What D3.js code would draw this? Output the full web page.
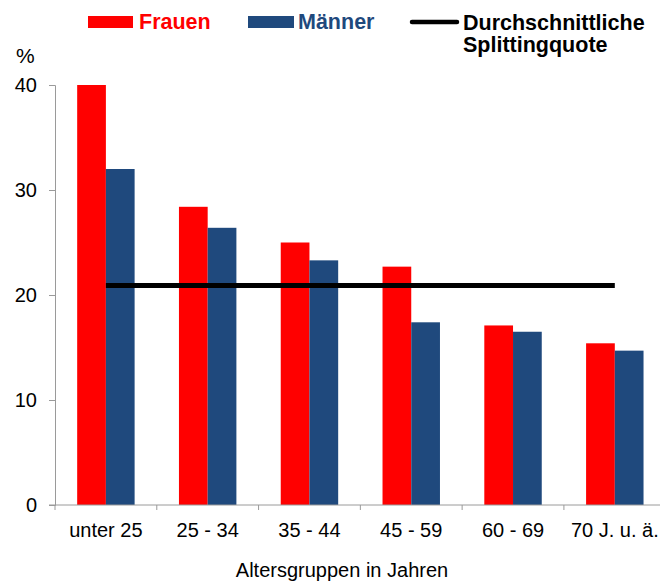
<!DOCTYPE html>
<html>
<head>
<meta charset="utf-8">
<script src="https://cdn.jsdelivr.net/npm/d3@7"></script>
<style>
  html, body { margin: 0; padding: 0; background: #fff; }
  svg { display: block; font-family: "Liberation Sans", Arial, sans-serif; }
</style>
</head>
<body>
<svg id="chart" width="660" height="582"></svg>
<script>
const categories = ["unter 25", "25 - 34", "35 - 44", "45 - 59", "60 - 69", "70 J. u. ä."];
const seriesNames = ["Frauen", "Männer"];
const frauen = [40.0, 28.4, 25.0, 22.7, 17.1, 15.4];
const maenner = [32.0, 26.4, 23.3, 17.4, 16.5, 14.7];
const durchschnitt = [20.9, 20.9, 20.9, 20.9, 20.9, 20.9];
const yTicks = [0, 10, 20, 30, 40];
const lineLabel = ["Durchschnittliche", "Splittingquote"];
const yUnit = "%";
const xTitle = "Altersgruppen in Jahren";

const colors = { "Frauen": "#ff0000", "Männer": "#1f497d" };
const axisColor = "#9a9a9a";

const svg = d3.select("#chart");

const x0 = d3.scaleBand().domain(categories).range([55, 665.7]).paddingInner(0).paddingOuter(0);
const x1 = d3.scaleBand().domain(seriesNames).range([0, x0.bandwidth()]).paddingInner(0).paddingOuter(0.772);
const y = d3.scaleLinear().domain([0, 40]).range([505, 85]);

const data = categories.map((c, i) => ({ cat: c, values: [
  { key: "Frauen", v: frauen[i] },
  { key: "Männer", v: maenner[i] }
]}));

// Bars
const g = svg.append("g");
g.selectAll("g.grp").data(data).join("g")
  .attr("class", "grp")
  .attr("transform", d => `translate(${x0(d.cat)},0)`)
  .selectAll("rect").data(d => d.values).join("rect")
  .attr("x", d => x1(d.key))
  .attr("width", x1.bandwidth())
  .attr("y", d => y(d.v))
  .attr("height", d => y(0) - y(d.v))
  .attr("fill", d => colors[d.key]);

// Y axis
const yAxis = svg.append("g")
  .attr("transform", "translate(55,0)")
  .call(d3.axisLeft(y).tickValues(yTicks).tickSize(6).tickPadding(12).tickFormat(d3.format("d")));
yAxis.select(".domain").attr("stroke", axisColor);
yAxis.selectAll(".tick line").attr("stroke", axisColor);
yAxis.selectAll(".tick text").attr("font-size", 20).attr("fill", "#000")
  .attr("font-family", "Liberation Sans, Arial, sans-serif");

// X axis
const xAxis = svg.append("g").attr("transform", "translate(0,505)");
xAxis.append("line").attr("x1", 49).attr("x2", 660).attr("y1", 0).attr("y2", 0)
  .attr("stroke", axisColor).attr("stroke-width", 1);
const boundaries = categories.map(c => x0(c));
xAxis.selectAll("line.tk").data(boundaries).join("line")
  .attr("class", "tk")
  .attr("x1", d => d).attr("x2", d => d)
  .attr("y1", 0).attr("y2", 5)
  .attr("stroke", axisColor);
xAxis.selectAll("text").data(categories).join("text")
  .attr("x", d => x0(d) + x0.bandwidth() / 2)
  .attr("y", 32)
  .attr("text-anchor", "middle")
  .attr("font-size", 20)
  .attr("fill", "#000")
  .text(d => d);

// Average line
const line = d3.line()
  .x((d, i) => x0(categories[i]) + x0.bandwidth() / 2)
  .y(d => y(d));
svg.append("path")
  .datum(durchschnitt)
  .attr("d", line)
  .attr("fill", "none")
  .attr("stroke", "#000")
  .attr("stroke-width", 5)
  .attr("stroke-linecap", "butt");

// Unit label
svg.append("text").attr("x", 16).attr("y", 63).attr("font-size", 21).attr("fill", "#000").text(yUnit);

// X title
svg.append("text").attr("x", 342).attr("y", 577).attr("text-anchor", "middle")
  .attr("font-size", 20).attr("fill", "#000").text(xTitle);

// Legend
const leg = svg.append("g").attr("font-weight", "bold").attr("font-size", 21.5);
leg.append("rect").attr("x", 88).attr("y", 16).attr("width", 45).attr("height", 12).attr("fill", colors["Frauen"]);
leg.append("text").attr("x", 139).attr("y", 29).attr("fill", colors["Frauen"]).text(seriesNames[0]);
leg.append("rect").attr("x", 248).attr("y", 16).attr("width", 46).attr("height", 12).attr("fill", colors["Männer"]);
leg.append("text").attr("x", 298).attr("y", 29).attr("fill", colors["Männer"]).text(seriesNames[1]);
leg.append("line").attr("x1", 412).attr("x2", 457).attr("y1", 22).attr("y2", 22)
  .attr("stroke", "#000").attr("stroke-width", 4.5).attr("stroke-linecap", "round");
leg.append("text").attr("x", 463).attr("y", 30).attr("fill", "#000").text(lineLabel[0]);
leg.append("text").attr("x", 463).attr("y", 52).attr("fill", "#000").text(lineLabel[1]);
</script>
</body>
</html>
